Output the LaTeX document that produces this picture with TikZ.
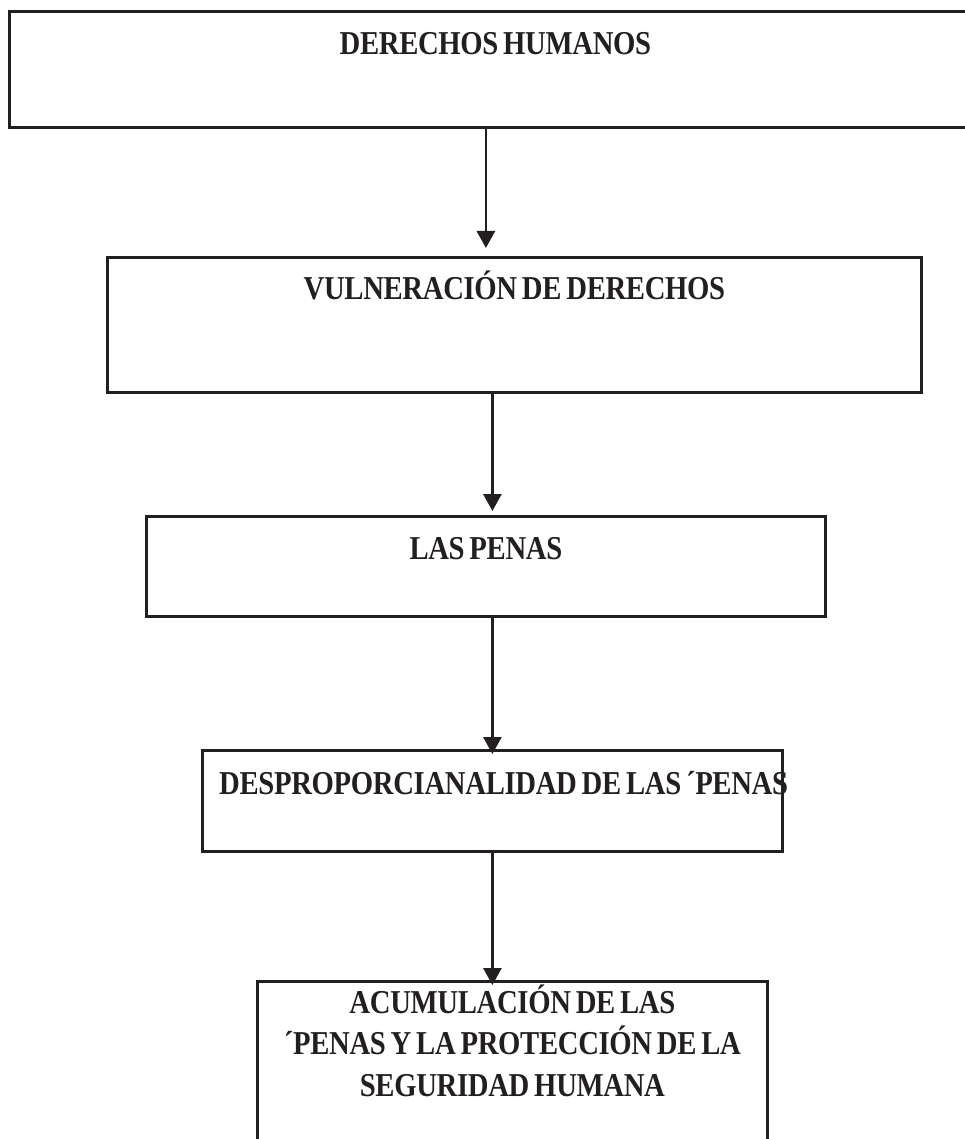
\documentclass[tikz,border=0pt]{standalone}
\usepackage{fontspec}
\setmainfont{Liberation Serif}[FakeStretch=0.86, LetterSpace=-1, WordSpace=0.7]
\usepackage{tikz}
\usetikzlibrary{arrows.meta, positioning}
\definecolor{inkline}{RGB}{35, 31, 32}

\begin{document}
\begin{tikzpicture}[
    box/.style={draw=inkline, line width=1.6pt, anchor=north west, inner xsep=0pt, inner ysep=0pt, text=inkline, font=\bfseries\fontsize{19}{23.5}\selectfont},
    flow/.style={draw=inkline, line width=1.6pt, -{Triangle[width=0.36cm, length=0.34cm]}}
]
    \useasboundingbox (0, 0) rectangle (19.28, -22.78);

    % Boxes, top to bottom
    \node[box, minimum width=19.44cm, text height=0.86cm, text depth=1.46cm] (derechos) at (0.16, -0.2) {DERECHOS HUMANOS};
    \node[box, minimum width=16.28cm, text height=0.84cm, text depth=1.86cm] (vulneracion) at (2.12, -5.12) {VULNERACIÓN DE DERECHOS};
    \node[box, minimum width=13.58cm, text height=0.86cm, text depth=1.14cm] (penas) at (2.9, -10.3) {LAS PENAS};
    \node[box, minimum width=11.6cm, text height=0.88cm, text depth=1.14cm] (desprop) at (4.02, -14.98) {\makebox[0pt]{\hspace{0.45cm}DESPROPORCIANALIDAD DE LAS ´PENAS}};
    \node[box, minimum width=10.2cm, text height=0.64cm, text depth=4cm] (acumulacion) at (5.12, -19.6)
        {\begin{tabular}[t]{@{}c@{}}ACUMULACIÓN DE LAS\\´PENAS Y LA PROTECCIÓN DE LA\\SEGURIDAD HUMANA\end{tabular}};

    % Arrows between boxes
    \draw[flow, shorten >=0.16cm] (derechos.south -| penas.north) -- (vulneracion.north -| penas.north);
    \draw[flow, shorten >=0.08cm] (vulneracion.south -| desprop.north) -- (penas.north -| desprop.north);
    \draw[flow, shorten >=-0.1cm] (penas.south -| desprop.north) -- (desprop.north);
    \draw[flow, shorten >=-0.1cm] (desprop.south) -- (acumulacion.north -| desprop.south);

\end{tikzpicture}
\end{document}
